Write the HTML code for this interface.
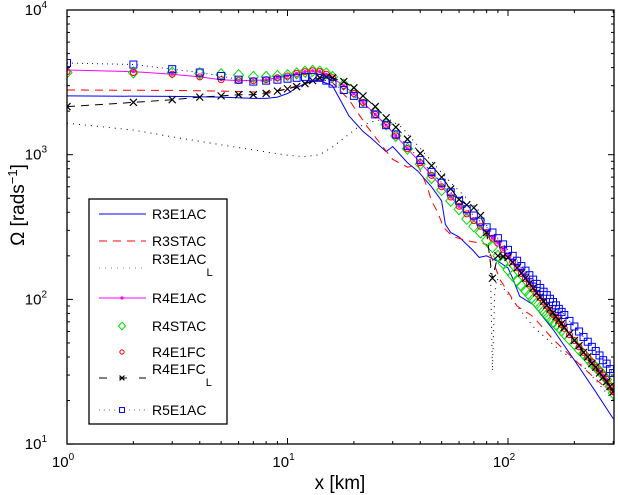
<!DOCTYPE html>
<html><head><meta charset="utf-8"><style>
body{margin:0;background:#fff;}
svg{display:block;font-family:"Liberation Sans",sans-serif;}
</style></head><body>
<svg id="chart" width="618" height="495" xmlns="http://www.w3.org/2000/svg">
<rect x="0" y="0" width="618" height="495" fill="#fff"/>
<g id="series"></g>
<g id="axes"></g>
<g id="legend"></g>
<text x="340" y="489" font-size="19" text-anchor="middle">x [km]</text>
<text transform="translate(24,205) rotate(-90)" font-size="19" text-anchor="middle">Ω [rads<tspan dy="-7" font-size="13">−1</tspan><tspan dy="7">]</tspan></text>
</svg>
<script>
const xm = [1,2,3,4,5,6,7,8,9,10,11,12,13,14,15,16,18,20,22,25,28,31,35,40,45,50,55,60,65,70,75,80,85,90,95,100,105,110,115,120,125,130,135,140,145,150,155,160,165,170,175,180,190,200,210,220,230,240,250,260,270,280,290,300];
const r4e1fc = [3750,3700,3600,3450,3300,3250,3250,3300,3400,3500,3650,3750,3800,3750,3600,3400,3000,2650,2300,1900,1600,1350,1100,880,720,600,510,440,390,350,320,290,265,245,222,200,182,165,151,139,128,119,110,103,96,90,84,79,75,71,67,63,57,52,47,43,40,37,34,32,30,28,25,23];
const r4e1ac = [3850,3750,3600,3450,3300,3250,3250,3300,3400,3500,3650,3750,3800,3750,3600,3400,3000,2650,2300,1900,1600,1350,1100,880,720,600,510,440,390,350,320,290,265,245,222,200,182,165,151,139,128,119,110,103,96,90,84,79,75,71,67,63,57,52,47,43,40,37,34,32,30,28,25,23];
const r4stac = [3700,3700,3700,3650,3600,3550,3450,3450,3500,3550,3650,3750,3800,3750,3650,3450,3050,2700,2350,1950,1620,1350,1100,860,690,570,480,420,360,320,290,255,230,200,178,160,146,135,124,115,107,100,94,88,83,78,74,70,67,64,61,58,53,49,45,42,39,36,34,32,30,28,25,22.5];
const r5e1ac = [4300,4200,3900,3700,3500,3300,3200,3250,3300,3350,3400,3450,3450,3400,3250,3100,2800,2550,2250,1900,1600,1380,1150,920,760,640,550,480,420,380,345,315,290,265,240,220,200,185,170,158,147,137,128,120,113,107,101,96,91,86,82,78,71,65,60,55,51,47,44,41,38,36,33,31];
const r4e1fcL = [2150,2300,2400,2500,2550,2600,2600,2650,2750,2850,2950,3100,3250,3400,3450,3400,3200,2900,2550,2150,1800,1550,1280,1020,840,700,580,490,450,430,380,290,140,200,198,195,180,165,152,140,129,120,111,104,97,91,86,81,76,72,68,64,58,52,48,43,40,36,34,31,29,27,25,23];
const x3e1ac = [1,3,5,7,8,9,10,11,12,13,14,16,19,22,24,28,30,35,39,45,50,52,55,60,65,69,74,80,92,100,105,113,130,160,200,250,300];
const r3e1ac = [2550,2530,2500,2450,2450,2500,2650,2900,3100,3200,3250,3000,1850,1450,1300,1050,1140,880,770,600,480,330,290,270,240,220,195,200,180,165,140,105,92,62,38,23,15];
const x3stac = [1,3,5,8,10,12,14,16,19,23,27,30,35,39,43,45,48,51,56,65,80,92,110,130,160,218,300];
const r3stac = [2800,2780,2750,2700,2850,3150,3300,3150,2400,1560,1140,930,820,850,600,480,400,315,272,255,240,137,90,76,53,34,22];
const x3l = [1,2,3,5,7,10,12,14,16,18,21,25,29,33,36,45,55,65,75,80,83,85,87,89,95,110,130,170,218,300];
const r3l = [1650,1480,1330,1170,1080,990,970,1000,1130,1300,1560,1720,1750,1550,1330,900,640,500,400,330,200,32,110,140,120,90,65,45,35,20];
const xTicks = [0,1,2];
const yTicks = [1,2,3,4];
const legendLabels = ["R3E1AC","R3STAC","R3E1AC","R4E1AC","R4STAC","R4E1FC","R4E1FC","R5E1AC"];

const NS="http://www.w3.org/2000/svg";
const L=67,R=614,T=10,B=444;
const X=v=>L+Math.log10(v)*220.5;
const Y=v=>T+(4-Math.log10(v))*144.7;
function mk(tag,attrs,parent){const e=document.createElementNS(NS,tag);for(const k in attrs)e.setAttribute(k,attrs[k]);parent.appendChild(e);return e;}
const sg=document.getElementById('series'), ag=document.getElementById('axes'), lg=document.getElementById('legend');
const clip=mk('clipPath',{id:'pc'},document.getElementById('chart'));
mk('rect',{x:L,y:T,width:R-L,height:B-T},clip);
sg.setAttribute('clip-path','url(#pc)');

function line(xs,ys,color,dash,name){
  const p=mk('polyline',{points:xs.map((x,i)=>X(x).toFixed(1)+','+Y(ys[i]).toFixed(1)).join(' '),fill:'none',stroke:color,'stroke-width':1,'stroke-dasharray':dash},sg);
  
  
}
function marker(type,cx,cy,parent,s){
  s=s||1;let e;
  if(type==='d'){e=mk('polygon',{points:`${cx},${cy-5.5*s} ${cx+5*s},${cy} ${cx},${cy+5.5*s} ${cx-5*s},${cy}`,fill:'none',stroke:'#00e000','stroke-width':1},parent);}
  else if(type==='o'){e=mk('circle',{cx,cy,r:3*s,fill:'none',stroke:'#ff0000','stroke-width':1},parent);}
  else if(type==='s'){e=mk('rect',{x:cx-3.5*s,y:cy-3.5*s,width:7*s,height:7*s,fill:'none',stroke:'#0000ff','stroke-width':1},parent);}
  else if(type==='x'){e=mk('path',{d:`M${cx-3.5*s},${cy-3.5*s}L${cx+3.5*s},${cy+3.5*s}M${cx-3.5*s},${cy+3.5*s}L${cx+3.5*s},${cy-3.5*s}`,stroke:'#000','stroke-width':1.2},parent);}
  else if(type==='.'){e=mk('circle',{cx,cy,r:1.6,fill:'#ff00ff'},parent);}
  return e;
}
function markers(xs,ys,type,name){
  xs.forEach((x,i)=>{const e=marker(type,X(x),Y(ys[i]),sg);
    
    });
}
line(x3l,r3l,'#000','1 5','r3e1ac-l-line');
line(x3e1ac,r3e1ac,'#0000ff','','r3e1ac-line');
line(x3stac,r3stac,'#ff0000','8 6','r3stac-line');
line(xm,r4e1ac,'#ff00ff','','r4e1ac-line');
markers(xm,r4e1ac,'.','r4e1ac-point');
markers(xm,r4stac,'d','r4stac-point');
markers(xm,r4e1fc,'o','r4e1fc-point');
line(xm,r4e1fcL,'#000','8 6','r4e1fc-l-line');
markers(xm,r4e1fcL,'x','r4e1fc-l-point');
line(xm,r5e1ac,'#0000ff','1 4','r5e1ac-line');
markers(xm,r5e1ac,'s','r5e1ac-point');

const fr=mk('rect',{x:L,y:T,width:R-L,height:B-T,fill:'none',stroke:'#000','stroke-width':1.3},ag);


for(let d=0;d<=2;d++){for(let m=1;m<=9;m++){const v=m*Math.pow(10,d);const px=X(v);if(px>R)continue;const len=m===1?6:3;
  mk('line',{x1:px,y1:B,x2:px,y2:B-len,stroke:'#000'},ag);mk('line',{x1:px,y1:T,x2:px,y2:T+len,stroke:'#000'},ag);}}
xTicks.forEach(e=>{const t=mk('text',{x:X(Math.pow(10,e))-4,y:467,'font-size':15,'text-anchor':'middle'},ag);
  
  
  t.innerHTML='10<tspan dy="-7" font-size="10">'+e+'</tspan>';});
for(let d=1;d<=3;d++){for(let m=1;m<=9;m++){const v=m*Math.pow(10,d);const py=Y(v);const len=m===1?6:3;
  mk('line',{x1:L,y1:py,x2:L+len,y2:py,stroke:'#000'},ag);mk('line',{x1:R,y1:py,x2:R-len,y2:py,stroke:'#000'},ag);}}
yTicks.forEach(e=>{const t=mk('text',{x:47,y:Y(Math.pow(10,e))+5,'font-size':15,'text-anchor':'end'},ag);
  
  
  t.innerHTML='10<tspan dy="-7" font-size="10">'+e+'</tspan>';});

const lb=mk('rect',{x:89,y:199,width:138,height:225,fill:'#fff',stroke:'#000','stroke-width':1.3},lg);


const ly=[214,241,268,298,326,352,378,410];
const subs=[false,false,true,false,false,false,true,false];
const st=[['#0000ff','','none'],['#ff0000','8 6','none'],['#888','1 5','none'],['#ff00ff','','.'],[null,'','d'],[null,'','o'],['#000','8 12','x'],['#6060ff','1 4','s']];
ly.forEach((y,i)=>{
  const g=mk('g',{},lg);
  
  
  if(st[i][0])mk('line',{x1:99,y1:y,x2:146,y2:y,stroke:st[i][0],'stroke-dasharray':st[i][1]},g);
  if(st[i][2]!=='none')marker(st[i][2],122,y,g,0.7);
  const t=mk('text',{x:152,y:subs[i]?y-4:y+5,'font-size':14},g);
  t.textContent=legendLabels[i];
  if(subs[i]){const s=mk('tspan',{dy:12,'font-size':11},t);s.textContent='L';}
});
</script>
</body></html>
